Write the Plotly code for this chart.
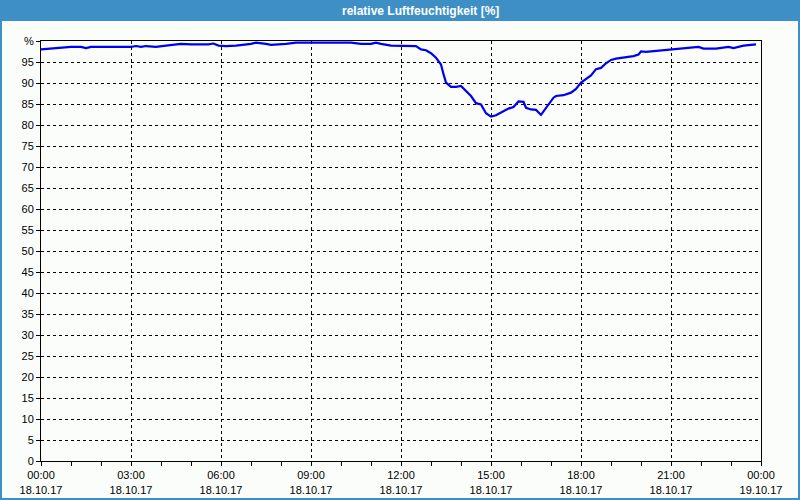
import plotly.graph_objects as go

# ---- data ----
times = ["00:00", "00:20", "00:40", "01:00", "01:20", "01:30", "01:40", "03:00", "03:10", "03:20",
         "03:30", "03:50", "04:10", "04:30", "04:40", "05:00", "05:35", "05:45", "05:55", "06:10",
         "06:30", "07:00", "07:10", "07:30", "07:40", "08:10", "08:30", "10:20", "10:40", "11:00",
         "11:10", "11:20", "11:40", "12:30", "12:40", "12:50", "13:00", "13:10", "13:20", "13:25",
         "13:30", "13:40", "13:50", "14:00", "14:10", "14:20", "14:30", "14:40", "14:50", "15:00",
         "15:10", "15:20", "15:35", "15:45", "15:55", "16:05", "16:10", "16:20", "16:30", "16:40",
         "16:50", "17:05", "17:10", "17:25", "17:40", "17:50", "18:00", "18:10", "18:20", "18:30",
         "18:40", "18:50", "19:00", "19:10", "19:30", "19:45", "19:55", "20:00", "20:10", "20:30",
         "21:00", "21:30", "21:55", "22:05", "22:30", "22:55", "23:05", "23:25", "23:50"]
humidity = [98.0, 98.2, 98.3, 98.6, 98.6, 98.3, 98.6, 98.6, 98.8, 98.6,
            98.8, 98.6, 98.9, 99.1, 99.3, 99.2, 99.2, 99.4, 98.9, 98.8,
            98.9, 99.3, 99.6, 99.3, 99.1, 99.3, 99.6, 99.6, 99.3, 99.3,
            99.6, 99.3, 98.9, 98.8, 98.0, 97.8, 97.1, 96.0, 94.4, 92.1,
            90.1, 89.1, 89.1, 89.3, 88.1, 86.9, 85.2, 84.9, 82.8, 82.0,
            82.3, 82.9, 83.9, 84.3, 85.6, 85.5, 84.1, 83.7, 83.6, 82.4,
            84.1, 86.5, 86.9, 87.1, 87.7, 88.6, 90.1, 91.0, 91.8, 93.3,
            93.6, 94.7, 95.5, 95.8, 96.2, 96.4, 96.8, 97.5, 97.4, 97.6,
            98.0, 98.2, 98.6, 98.2, 98.2, 98.6, 98.3, 98.9, 99.2]

date = "2017-10-18"
x_tick_vals = ["2017-10-18 00:00", "2017-10-18 03:00", "2017-10-18 06:00", "2017-10-18 09:00",
               "2017-10-18 12:00", "2017-10-18 15:00", "2017-10-18 18:00", "2017-10-18 21:00",
               "2017-10-19 00:00"]
x_tick_text = ["00:00<br>18.10.17", "03:00<br>18.10.17", "06:00<br>18.10.17", "09:00<br>18.10.17",
               "12:00<br>18.10.17", "15:00<br>18.10.17", "18:00<br>18.10.17", "21:00<br>18.10.17",
               "00:00<br>19.10.17"]
y_tick_vals = list(range(0, 101, 5))
y_tick_text = [str(v) for v in range(0, 100, 5)] + ["%"]

title_text = "relative Luftfeuchtigkeit [%]"

# ---- figure ----
W, H = 800, 500
L, R, T, B = 41, 39, 41, 39
pw, ph = W - L - R, H - T - B
BLUE = "#3d8fc6"

x_vals = [f"{date} {t}" for t in times]

fig = go.Figure()
fig.add_trace(go.Scatter(x=x_vals, y=humidity, mode="lines",
                         line=dict(color="#0000f0", width=2.2), hoverinfo="skip"))

font = dict(family="Liberation Sans, Arial, sans-serif", size=11, color="black")

fig.update_layout(
    width=W, height=H,
    margin=dict(l=L, r=R, t=T, b=B, autoexpand=False),
    paper_bgcolor="#fbfdfb", plot_bgcolor="#fbfdfb",
    showlegend=False,
    font=font,
    xaxis=dict(type="date", range=["2017-10-18 00:00", "2017-10-19 00:00"],
               tickvals=x_tick_vals, ticktext=x_tick_text,
               showgrid=True, gridcolor="black", gridwidth=1, griddash="3px,3px",
               showline=True, linecolor="black", linewidth=1, mirror=True,
               ticks="outside", ticklen=4, tickcolor="black",
               minor=dict(dtick=3600000, ticks="outside", ticklen=4, tickcolor="black", showgrid=False),
               zeroline=False, fixedrange=True, tickfont=font),
    yaxis=dict(range=[0, 100], tickvals=y_tick_vals, ticktext=y_tick_text,
               showgrid=True, gridcolor="black", gridwidth=1, griddash="3px,3px",
               showline=True, linecolor="black", linewidth=1, mirror=True,
               ticks="outside", ticklen=4, tickcolor="black",
               zeroline=False, fixedrange=True, tickfont=font),
)

# title bar and outer window border
fig.add_shape(type="rect", xref="paper", yref="paper",
              x0=-L / pw, x1=(W - L) / pw, y0=(H - B - 21) / ph, y1=(H - B) / ph,
              fillcolor=BLUE, line=dict(width=0), layer="above")
fig.add_shape(type="rect", xref="paper", yref="paper",
              x0=(-L + 1) / pw, x1=(W - L - 1) / pw, y0=(-B + 1) / ph, y1=(H - B) / ph,
              fillcolor="rgba(0,0,0,0)", line=dict(color=BLUE, width=2), layer="above")
fig.add_annotation(text="<b>" + title_text + "</b>", xref="paper", yref="paper",
                   x=(420 - L) / pw, y=(H - B - 10.5) / ph, showarrow=False,
                   xanchor="center", yanchor="middle",
                   font=dict(family="Liberation Sans, Arial, sans-serif", size=12, color="white"))

fig.write_html("out.html", config={"displayModeBar": False},
               post_script="document.body.style.margin='0';document.body.style.overflow='hidden';")
